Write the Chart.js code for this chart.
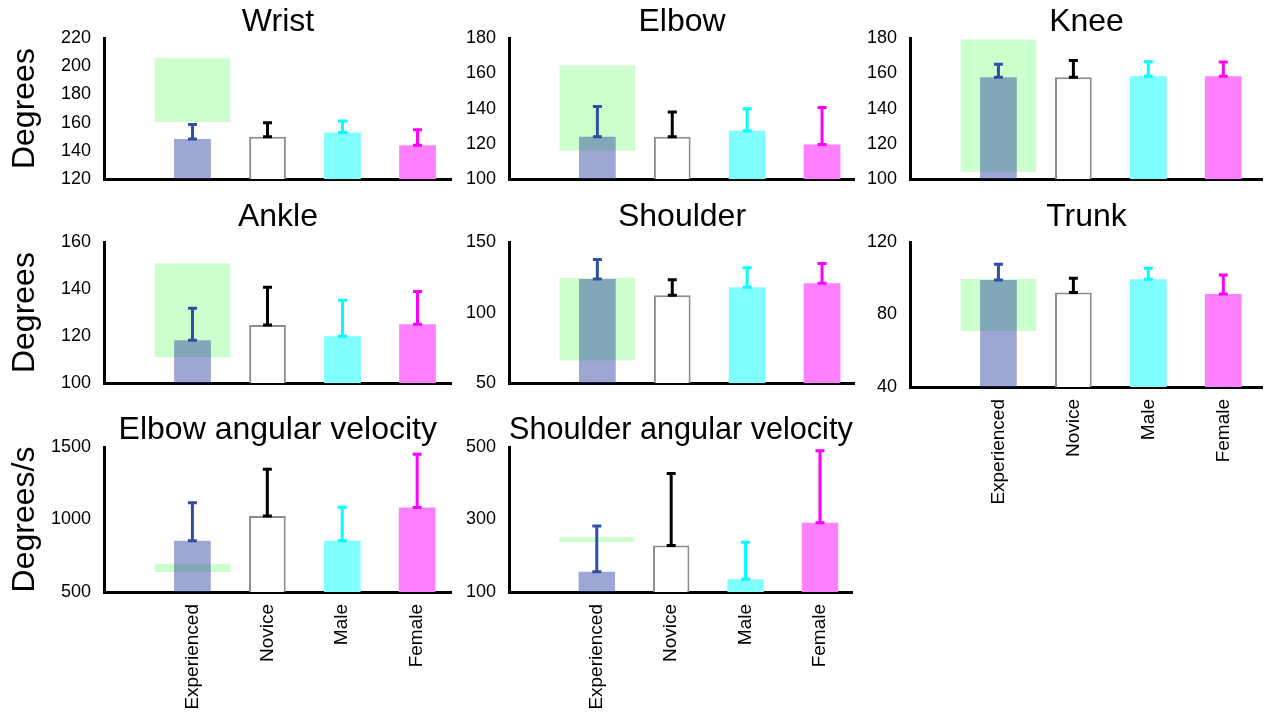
<!DOCTYPE html>
<html>
<head>
<meta charset="utf-8">
<script src="https://cdn.jsdelivr.net/npm/chart.js@4.4.1/dist/chart.umd.min.js"></script>
<style>
  body { margin: 0; background: #fff; }
  #wrap { position: relative; width: 1265px; height: 713px; overflow: hidden; }
  #wrap canvas { position: absolute; }
</style>
</head>
<body>
<div id="wrap"></div>
<script>
// groups on the x axis
const groups = ['Experienced', 'Novice', 'Male', 'Female'];

// means, upper SD and the green reference range (Experienced)
const wristMean = [148.5, 150.1, 153.1, 144.1];
const wristSD = [10.3, 9.9, 8.1, 10.9];
const wristRange = [160.7, 205.5];

const elbowMean = [124.1, 124.1, 127.4, 119.7];
const elbowSD = [17.1, 14.0, 12.5, 20.9];
const elbowRange = [116.4, 164.2];

const kneeMean = [157.8, 157.8, 158.3, 158.3];
const kneeSD = [7.3, 9.5, 8.3, 8.1];
const kneeRange = [104.4, 178.9];

const ankleMean = [118.3, 124.7, 119.9, 125.0];
const ankleSD = [13.6, 16.1, 15.4, 14.0];
const ankleRange = [111.2, 150.8];

const shoulderMean = [123.8, 112.3, 118.0, 120.8];
const shoulderSD = [13.8, 11.0, 13.8, 14.0];
const shoulderRange = [66.3, 124.3];

const trunkMean = [99.0, 92.2, 99.4, 91.3];
const trunkSD = [8.7, 7.8, 6.1, 10.5];
const trunkRange = [71.1, 99.4];

const elbowVelMean = [854, 1024, 854, 1082];
const elbowVelSD = [262, 322, 230, 368];
const elbowVelRange = [640, 693];

const shoulderVelMean = [156, 228, 135, 291];
const shoulderVelSD = [126, 199, 102, 199];
const shoulderVelRange = [239, 250];

const barFill = ['rgba(40,60,160,0.45)', '#ffffff', '#80ffff', '#ff80ff'];
const barBorder = ['rgba(0,0,0,0)', '#8c8c8c', 'rgba(0,0,0,0)', 'rgba(0,0,0,0)'];
const barBorderW = [0, 2, 0, 0];
const errColor = ['#2f4fa5', '#000000', '#00ffff', '#ff00ff'];

// layout of the grid
const colLeft = [0, 430, 850];
const axisLeft = [104, 509, 910];
const axisRight = [452, 855, 1263];
const xMax = [4.46, 4.44, 4.53];
const rowTop = [38, 242, 447];
const rowBottom = [183, 387, 592];
const titleGap = [0, 9, 1];

const panels = [
  { title: 'Wrist', mean: wristMean, sd: wristSD, range: wristRange, min: 120, max: 220, step: 20, row: 0, col: 0, yTitle: 'Degrees', labels: false },
  { title: 'Elbow', mean: elbowMean, sd: elbowSD, range: elbowRange, min: 100, max: 180, step: 20, row: 0, col: 1, yTitle: '', labels: false },
  { title: 'Knee', mean: kneeMean, sd: kneeSD, range: kneeRange, min: 100, max: 180, step: 20, row: 0, col: 2, yTitle: '', labels: false },
  { title: 'Ankle', mean: ankleMean, sd: ankleSD, range: ankleRange, min: 100, max: 160, step: 20, row: 1, col: 0, yTitle: 'Degrees', labels: false },
  { title: 'Shoulder', mean: shoulderMean, sd: shoulderSD, range: shoulderRange, min: 50, max: 150, step: 50, row: 1, col: 1, yTitle: '', labels: false },
  { title: 'Trunk', mean: trunkMean, sd: trunkSD, range: trunkRange, min: 40, max: 120, step: 40, row: 1, col: 2, yTitle: '', labels: true },
  { title: 'Elbow angular velocity', mean: elbowVelMean, sd: elbowVelSD, range: elbowVelRange, min: 500, max: 1500, step: 500, row: 2, col: 0, yTitle: 'Degrees/s', labels: true },
  { title: 'Shoulder angular velocity', mean: shoulderVelMean, sd: shoulderVelSD, range: shoulderVelRange, min: 100, max: 500, step: 200, row: 2, col: 1, yTitle: '', labels: true }
];

Chart.defaults.font.family = '"Liberation Sans", Arial, sans-serif';
Chart.defaults.color = '#000';

// upper error bars drawn from the bar top to mean + SD
const errorBars = {
  id: 'errorBars',
  afterDatasetsDraw(chart, args, opts) {
    const { ctx, scales: { x, y } } = chart;
    const data = chart.data.datasets[0].data;
    ctx.save();
    ctx.lineWidth = 3;
    data.forEach((p, i) => {
      const px = x.getPixelForValue(p.x);
      const y0 = y.getPixelForValue(p.y);
      const y1 = y.getPixelForValue(p.y + opts.sd[i]);
      ctx.strokeStyle = errColor[i];
      ctx.beginPath();
      ctx.moveTo(px, y0);
      ctx.lineTo(px, y1);
      ctx.moveTo(px - 4.5, y1);
      ctx.lineTo(px + 4.5, y1);
      ctx.moveTo(px - 4.5, y0);
      ctx.lineTo(px + 4.5, y0);
      ctx.stroke();
    });
    ctx.restore();
  }
};

const wrap = document.getElementById('wrap');

panels.forEach(p => {
  const top = rowTop[p.row] - 32 - titleGap[p.row];
  const xH = p.labels ? (p.row === 2 ? 713 - rowBottom[p.row] : 130) : 20;
  const left = colLeft[p.col];
  const w = axisRight[p.col] - left;
  const h = rowBottom[p.row] + xH - top;
  const yW = axisLeft[p.col] - left;

  const cv = document.createElement('canvas');
  cv.width = w;
  cv.height = h;
  cv.style.left = left + 'px';
  cv.style.top = top + 'px';
  wrap.appendChild(cv);

  new Chart(cv, {
    type: 'bar',
    data: {
      datasets: [
        {
          data: p.mean.map((v, i) => ({ x: i + 1, y: v })),
          backgroundColor: barFill,
          borderColor: barBorder,
          borderWidth: barBorderW,
          base: p.min,
          grouped: false,
          categoryPercentage: 1,
          barPercentage: 0.49
        },
        {
          data: [{ x: 1, y: p.range }],
          backgroundColor: 'rgba(0,255,0,0.2)',
          borderWidth: 0,
          grouped: false,
          categoryPercentage: 1,
          barPercentage: 1
        }
      ]
    },
    options: {
      responsive: false,
      devicePixelRatio: 1,
      animation: false,
      layout: { padding: 0 },
      plugins: {
        legend: { display: false },
        tooltip: { enabled: false },
        title: {
          display: true,
          text: p.title,
          fullSize: false,
          font: { size: 32, weight: 'normal', lineHeight: 1 },
          padding: { top: 0, bottom: titleGap[p.row] }
        },
        errorBars: { sd: p.sd }
      },
      scales: {
        x: {
          type: 'linear',
          offset: false,
          min: -0.18,
          max: xMax[p.col],
          grid: { display: false, drawTicks: false, offset: false },
          border: { display: true, color: '#000', width: 3 },
          afterBuildTicks: s => { s.ticks = groups.map((g, i) => ({ value: i + 1 })); },
          afterFit: s => { s.height = xH; },
          ticks: {
            display: p.labels,
            autoSkip: false,
            minRotation: 90,
            maxRotation: 90,
            padding: 12,
            font: { size: 19 },
            callback: v => groups[v - 1] || ''
          }
        },
        y: {
          min: p.min,
          max: p.max,
          grid: { display: false, drawTicks: false },
          border: { display: true, color: '#000', width: 3 },
          afterFit: s => { s.width = yW; },
          ticks: { stepSize: p.step, padding: 13, font: { size: 18 }, callback: v => String(v) },
          title: {
            display: p.yTitle !== '',
            text: p.yTitle,
            font: { size: 32, lineHeight: 1.2 },
            padding: { top: 6, bottom: 0 }
          }
        }
      }
    },
    plugins: [errorBars]
  });
});
</script>
</body>
</html>
